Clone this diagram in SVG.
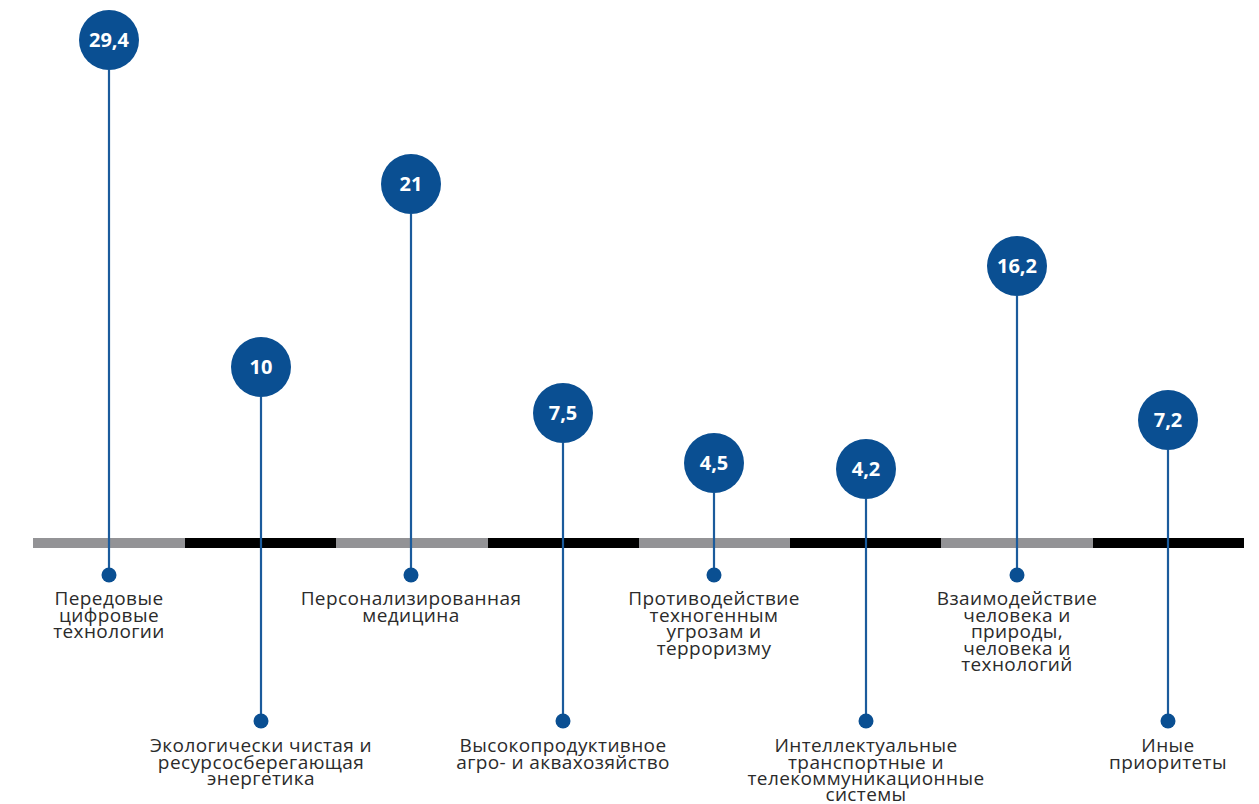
<svg xmlns="http://www.w3.org/2000/svg" width="1259" height="804" viewBox="0 0 1259 804">
<style>
.bub{fill:#0a4f92}
.stem{stroke:#1b5b9c;stroke-width:2.2}
.dot{fill:#0a4f92}
.val{font-family:"Open Sans","Liberation Sans",sans-serif;font-weight:700;font-size:20px;fill:#fff;text-anchor:middle}
.lbl{font-family:"Open Sans","Liberation Sans",sans-serif;font-size:19px;letter-spacing:0.4px;fill:#2b2b2b;text-anchor:middle}
</style>
<rect width="1259" height="804" fill="#fff"/>
<g id="axis">
<rect x="33" y="538" width="152" height="10" fill="#939396"/>
<rect x="185" y="538" width="151" height="10" fill="#000"/>
<rect x="336" y="538" width="152" height="10" fill="#939396"/>
<rect x="488" y="538" width="151" height="10" fill="#000"/>
<rect x="639" y="538" width="151" height="10" fill="#939396"/>
<rect x="790" y="538" width="151" height="10" fill="#000"/>
<rect x="941" y="538" width="152" height="10" fill="#939396"/>
<rect x="1093" y="538" width="151" height="10" fill="#000"/>
</g>
<g id="connectors">
<line class="stem" x1="109" y1="70" x2="109" y2="575"/>
<line class="stem" x1="261" y1="397" x2="261" y2="721"/>
<line class="stem" x1="411" y1="214" x2="411" y2="575"/>
<line class="stem" x1="563" y1="443" x2="563" y2="721"/>
<line class="stem" x1="714" y1="493" x2="714" y2="575"/>
<line class="stem" x1="866" y1="499" x2="866" y2="721"/>
<line class="stem" x1="1017" y1="296" x2="1017" y2="575"/>
<line class="stem" x1="1168" y1="450" x2="1168" y2="721"/>
</g>
<g id="n1">
<circle class="bub" cx="109" cy="40" r="30"/><text class="val" x="109" y="47">29,4</text>
<circle class="dot" cx="109" cy="575" r="7.5"/>
<text class="lbl" x="109" y="605">Передовые</text>
<text class="lbl" x="109" y="622">цифровые</text>
<text class="lbl" x="109" y="638">технологии</text>
</g>
<g id="n2">
<circle class="bub" cx="261" cy="367" r="30"/><text class="val" x="261" y="374">10</text>
<circle class="dot" cx="261" cy="721" r="7.5"/>
<text class="lbl" x="261" y="752">Экологически чистая и</text>
<text class="lbl" x="261" y="769">ресурсосберегающая</text>
<text class="lbl" x="261" y="785">энергетика</text>
</g>
<g id="n3">
<circle class="bub" cx="411" cy="184" r="30"/><text class="val" x="411" y="191">21</text>
<circle class="dot" cx="411" cy="575" r="7.5"/>
<text class="lbl" x="411" y="605">Персонализированная</text>
<text class="lbl" x="411" y="622">медицина</text>
</g>
<g id="n4">
<circle class="bub" cx="563" cy="413" r="30"/><text class="val" x="563" y="420">7,5</text>
<circle class="dot" cx="563" cy="721" r="7.5"/>
<text class="lbl" x="563" y="752">Высокопродуктивное</text>
<text class="lbl" x="563" y="769">агро- и аквахозяйство</text>
</g>
<g id="n5">
<circle class="bub" cx="714" cy="463" r="30"/><text class="val" x="714" y="470">4,5</text>
<circle class="dot" cx="714" cy="575" r="7.5"/>
<text class="lbl" x="714" y="605">Противодействие</text>
<text class="lbl" x="714" y="622">техногенным</text>
<text class="lbl" x="714" y="638">угрозам и</text>
<text class="lbl" x="714" y="655">терроризму</text>
</g>
<g id="n6">
<circle class="bub" cx="866" cy="469" r="30"/><text class="val" x="866" y="476">4,2</text>
<circle class="dot" cx="866" cy="721" r="7.5"/>
<text class="lbl" x="866" y="752">Интеллектуальные</text>
<text class="lbl" x="866" y="769">транспортные и</text>
<text class="lbl" x="866" y="785">телекоммуникационные</text>
<text class="lbl" x="866" y="801">системы</text>
</g>
<g id="n7">
<circle class="bub" cx="1017" cy="266" r="30"/><text class="val" x="1017" y="273">16,2</text>
<circle class="dot" cx="1017" cy="575" r="7.5"/>
<text class="lbl" x="1017" y="605">Взаимодействие</text>
<text class="lbl" x="1017" y="622">человека и</text>
<text class="lbl" x="1017" y="638">природы,</text>
<text class="lbl" x="1017" y="655">человека и</text>
<text class="lbl" x="1017" y="671">технологий</text>
</g>
<g id="n8">
<circle class="bub" cx="1168" cy="420" r="30"/><text class="val" x="1168" y="427">7,2</text>
<circle class="dot" cx="1168" cy="721" r="7.5"/>
<text class="lbl" x="1168" y="752">Иные</text>
<text class="lbl" x="1168" y="769">приоритеты</text>
</g>
</svg>
